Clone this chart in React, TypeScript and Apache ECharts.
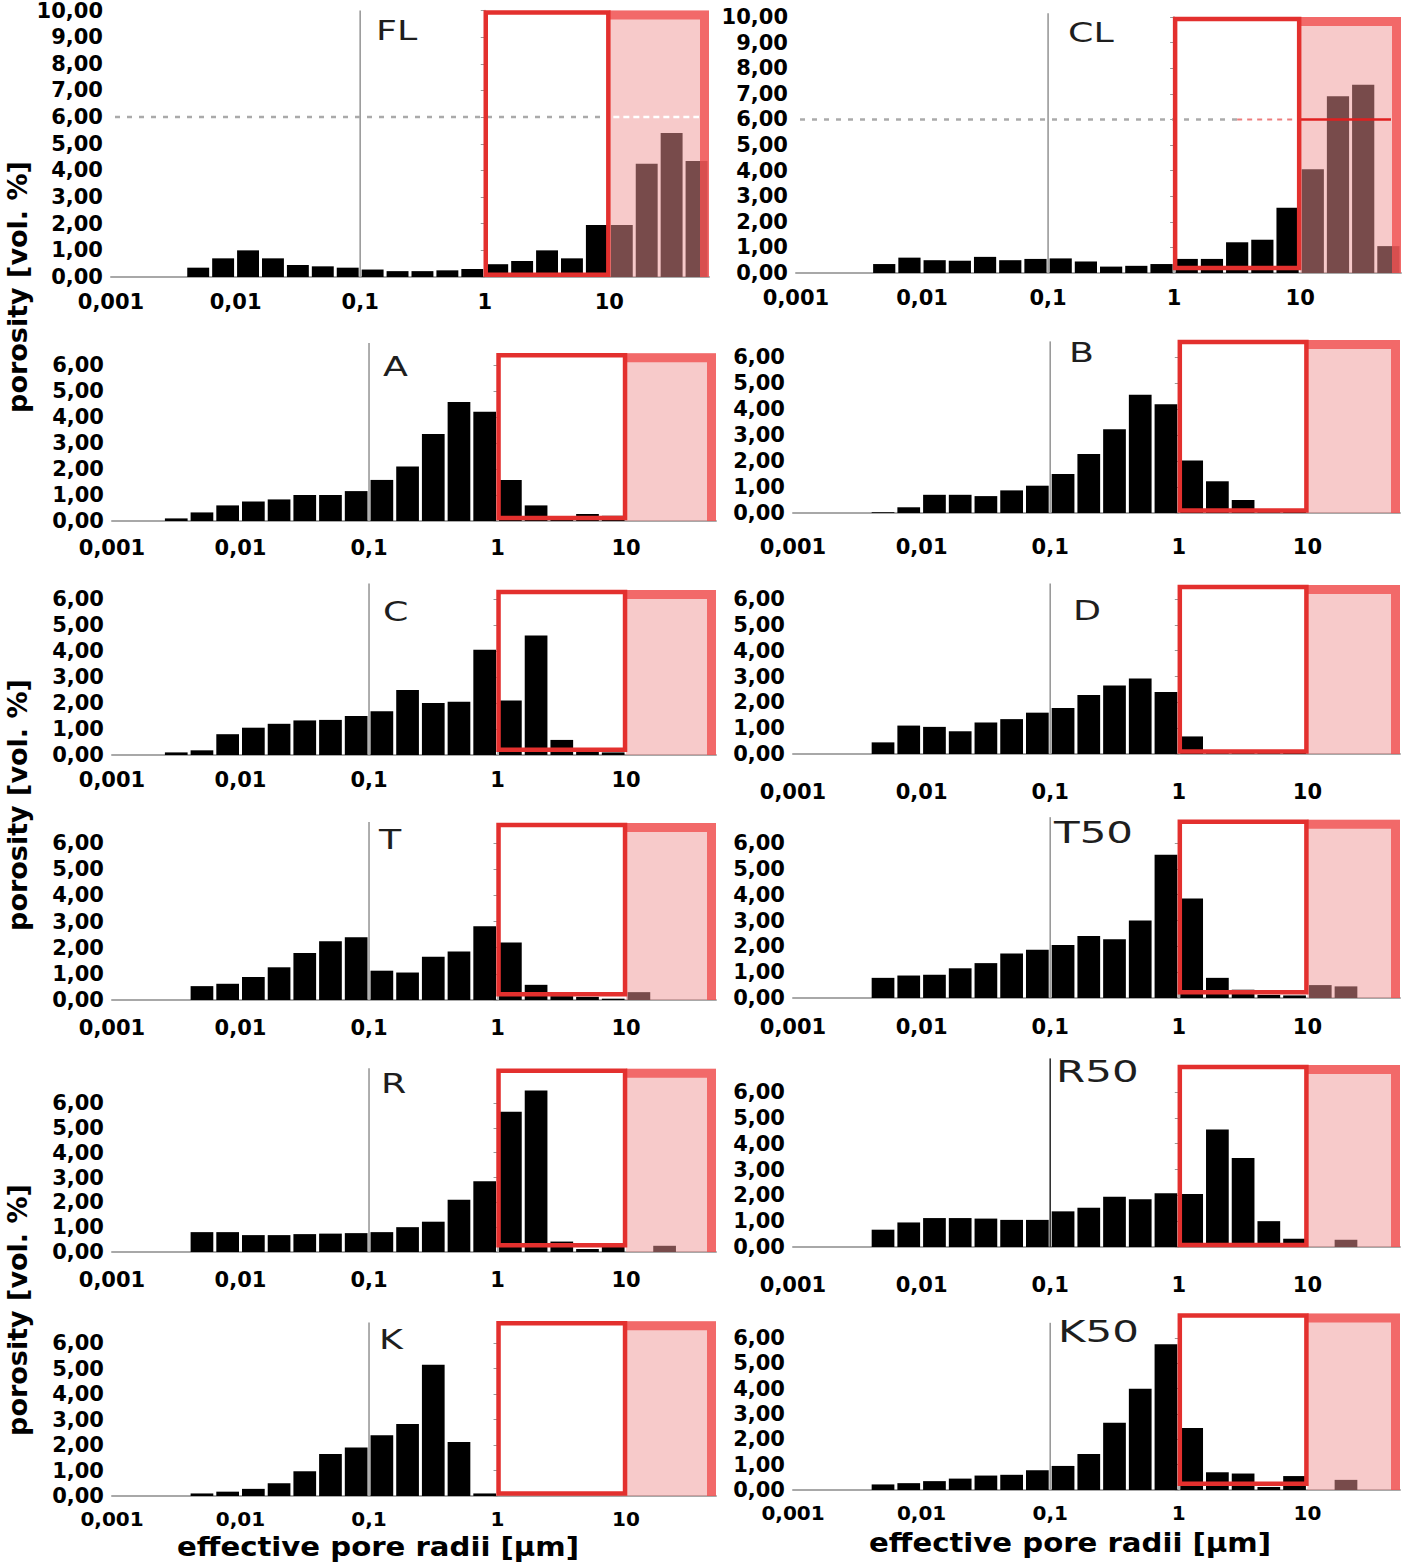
import React, { useEffect, useRef } from 'react';
import * as echarts from 'echarts';

// Histogram bins: first lower edge at 10^-2.6 µm, each bin spans 0.2 decade (22 bins)
const BIN_START_LOG = -2.6;
const BIN_STEP_LOG = 0.2;

const FL_VALUES = [0, 0.35, 0.7, 1.0, 0.7, 0.45, 0.4, 0.35, 0.28, 0.22, 0.22, 0.25, 0.3, 0.48, 0.6, 1.0, 0.7, 1.95, 1.95, 4.25, 5.4, 4.35];
const CL_VALUES = [0, 0.35, 0.6, 0.5, 0.48, 0.63, 0.5, 0.55, 0.57, 0.45, 0.25, 0.28, 0.35, 0.55, 0.55, 1.2, 1.3, 2.55, 4.05, 6.9, 7.35, 1.05];
const A_VALUES = [0.1, 0.33, 0.6, 0.75, 0.83, 1.0, 1.0, 1.15, 1.58, 2.1, 3.35, 4.58, 4.2, 1.58, 0.6, 0.18, 0.27, 0.2, 0, 0, 0, 0];
const B_VALUES = [0, 0.03, 0.22, 0.7, 0.7, 0.65, 0.87, 1.05, 1.5, 2.27, 3.22, 4.55, 4.18, 2.02, 1.22, 0.5, 0.03, 0.05, 0, 0, 0, 0];
const C_VALUES = [0.1, 0.18, 0.8, 1.05, 1.2, 1.33, 1.35, 1.5, 1.68, 2.5, 2.0, 2.05, 4.05, 2.1, 4.6, 0.58, 0.15, 0.1, 0, 0, 0, 0];
const D_VALUES = [0, 0.45, 1.1, 1.05, 0.88, 1.22, 1.35, 1.6, 1.78, 2.28, 2.65, 2.92, 2.4, 0.68, 0.03, 0.03, 0.03, 0.05, 0, 0, 0, 0];
const T_VALUES = [0, 0.53, 0.62, 0.88, 1.25, 1.8, 2.25, 2.4, 1.12, 1.05, 1.65, 1.85, 2.82, 2.2, 0.58, 0.15, 0.12, 0.05, 0.3, 0, 0, 0];
const T50_VALUES = [0, 0.78, 0.87, 0.9, 1.15, 1.35, 1.72, 1.87, 2.05, 2.4, 2.27, 3.0, 5.55, 3.85, 0.78, 0.32, 0.12, 0.1, 0.5, 0.45, 0, 0];
const R_VALUES = [0, 0.8, 0.8, 0.68, 0.68, 0.72, 0.74, 0.76, 0.8, 1.0, 1.22, 2.1, 2.85, 5.65, 6.5, 0.42, 0.12, 0.25, 0, 0.25, 0, 0];
const R50_VALUES = [0, 0.67, 0.95, 1.12, 1.12, 1.1, 1.05, 1.05, 1.38, 1.52, 1.95, 1.85, 2.08, 2.05, 4.55, 3.45, 1.0, 0.32, 0, 0.28, 0, 0];
const K_VALUES = [0, 0.1, 0.17, 0.28, 0.5, 0.97, 1.65, 1.9, 2.38, 2.82, 5.15, 2.12, 0.1, 0, 0, 0, 0, 0, 0, 0, 0, 0];
const K50_VALUES = [0, 0.22, 0.27, 0.35, 0.45, 0.57, 0.6, 0.78, 0.95, 1.42, 2.65, 4.0, 5.75, 2.45, 0.7, 0.65, 0.12, 0.55, 0, 0.4, 0, 0];

const X_TICK_LOGS = [-3, -2, -1, 0, 1];
const X_TICK_LABELS = ['0,001', '0,01', '0,1', '1', '10'];
const Y_TITLE = 'porosity [vol. %]';
const X_TITLE = 'effective pore radii [µm]';

// marked ranges (log10 µm)
const WHITE_BOX = [0, 1];
const PINK_START = 1;
const REF_LINE_VALUE = 6;
const MARKER_LOG = -1;

type Panel = {
  tag: string; values: number[]; left: number; top: number; width: number; height: number;
  ymax: number; xmax: number; labelMargin: number; boxTop: number; boxBottom: number; vTop: number;
  tagX: number; tagY: number; tagSize: number; refLine?: 'white' | 'red'; vColor?: string; xLabelSize?: number;
};

const PANELS: Panel[] = [
  { tag: 'FL', values: FL_VALUES, left: 111, top: 10, width: 598, height: 267, ymax: 10, xmax: 1.8, labelMargin: 14, boxTop: 10.0, boxBottom: 0.08, vTop: 10.0, tagX: 376, tagY: 31, tagSize: 26, refLine: 'white' },
  { tag: 'CL', values: CL_VALUES, left: 796, top: 17, width: 605, height: 256, ymax: 10, xmax: 1.8, labelMargin: 14, boxTop: 10.0, boxBottom: 0.2, vTop: 10.15, tagX: 1068, tagY: 33, tagSize: 26, refLine: 'red' },
  { tag: 'A', values: A_VALUES, left: 112, top: 365, width: 604, height: 156, ymax: 6, xmax: 1.7, labelMargin: 16, boxTop: 6.45, boxBottom: 0.12, vTop: 6.85, tagX: 383, tagY: 367, tagSize: 26 },
  { tag: 'B', values: B_VALUES, left: 793, top: 357, width: 607, height: 156, ymax: 6, xmax: 1.72, labelMargin: 23, boxTop: 6.65, boxBottom: 0.1, vTop: 6.6, tagX: 1069, tagY: 353, tagSize: 26 },
  { tag: 'C', values: C_VALUES, left: 112, top: 599, width: 604, height: 156, ymax: 6, xmax: 1.7, labelMargin: 14, boxTop: 6.35, boxBottom: 0.2, vTop: 6.6, tagX: 383, tagY: 612, tagSize: 26 },
  { tag: 'D', values: D_VALUES, left: 793, top: 599, width: 607, height: 155, ymax: 6, xmax: 1.72, labelMargin: 27, boxTop: 6.54, boxBottom: 0.1, vTop: 6.6, tagX: 1073, tagY: 611, tagSize: 26 },
  { tag: 'T', values: T_VALUES, left: 112, top: 843, width: 604, height: 157, ymax: 6, xmax: 1.7, labelMargin: 17, boxTop: 6.76, boxBottom: 0.22, vTop: 6.8, tagX: 379, tagY: 840, tagSize: 26 },
  { tag: 'T50', values: T50_VALUES, left: 793, top: 843, width: 607, height: 155, ymax: 6, xmax: 1.72, labelMargin: 18, boxTop: 6.9, boxBottom: 0.22, vTop: 7.0, tagX: 1054, tagY: 833, tagSize: 30 },
  { tag: 'R', values: R_VALUES, left: 112, top: 1103, width: 604, height: 149, ymax: 6, xmax: 1.7, labelMargin: 17, boxTop: 7.38, boxBottom: 0.27, vTop: 7.4, tagX: 381, tagY: 1084, tagSize: 26 },
  { tag: 'R50', values: R50_VALUES, left: 793, top: 1092, width: 607, height: 155, ymax: 6, xmax: 1.72, labelMargin: 27, boxTop: 7.05, boxBottom: 0.08, vTop: 7.3, tagX: 1056, tagY: 1072, tagSize: 30, vColor: '#333' },
  { tag: 'K', values: K_VALUES, left: 112, top: 1343, width: 604, height: 153, ymax: 6, xmax: 1.7, labelMargin: 13, boxTop: 6.85, boxBottom: 0.1, vTop: 6.8, tagX: 379, tagY: 1340, tagSize: 26, xLabelSize: 20 },
  { tag: 'K50', values: K50_VALUES, left: 793, top: 1338, width: 607, height: 152, ymax: 6, xmax: 1.72, labelMargin: 13, boxTop: 6.97, boxBottom: 0.25, vTop: 6.6, tagX: 1058, tagY: 1332, tagSize: 30, xLabelSize: 20 },
];

const LABEL_FONT = 'DejaVu Sans';

function xLabel(v: number): string {
  const idx = X_TICK_LOGS.findIndex((t) => Math.abs(t - v) < 1e-6);
  return idx >= 0 ? X_TICK_LABELS[idx] : '';
}

function yLabel(v: number): string {
  return v.toFixed(2).replace('.', ',');
}

function buildOption() {
  const grid: any[] = [];
  const xAxis: any[] = [];
  const yAxis: any[] = [];
  const series: any[] = [];
  const graphic: any[] = [];

  PANELS.forEach((p, i) => {
    grid.push({ left: p.left, top: p.top, width: p.width, height: p.height, containLabel: false });
    xAxis.push({
      type: 'value', gridIndex: i, min: -3, max: p.xmax, interval: 1,
      axisLine: { show: true, onZero: false, lineStyle: { color: '#a8a8a8', width: 2 } },
      axisTick: { show: false }, splitLine: { show: false },
      axisLabel: { margin: p.labelMargin, formatter: xLabel, fontFamily: LABEL_FONT, fontWeight: 'bold', fontSize: p.xLabelSize || 21, color: '#000', showMaxLabel: false },
    });
    yAxis.push({
      type: 'value', gridIndex: i, min: 0, max: p.ymax, interval: 1,
      axisLine: { show: true, lineStyle: { color: '#999', width: 1.5 } },
      axisTick: { show: true, length: 4, lineStyle: { color: '#999' } }, splitLine: { show: false },
      axisLabel: { margin: 8, formatter: yLabel, fontFamily: LABEL_FONT, fontWeight: 'bold', fontSize: 21, color: '#000' },
    });

    // background decorations: marker line at 0.1 µm, dotted reference line
    series.push({
      type: 'custom', xAxisIndex: i, yAxisIndex: i, z: 2, silent: true,
      data: [[0, 0]], encode: { x: 0, y: 1 },
      renderItem: (_params: any, api: any) => {
        const base = api.coord([MARKER_LOG, 0]);
        const vt = api.coord([MARKER_LOG, p.vTop]);
        const children: any[] = [
          { type: 'line', shape: { x1: base[0], y1: base[1], x2: vt[0], y2: vt[1] }, style: { stroke: p.vColor || '#9a9a9a', lineWidth: 1.6 } },
        ];
        if (p.refLine) {
          const a = api.coord([-3, REF_LINE_VALUE]);
          const b = api.coord([p.refLine === 'red' ? 0.5 : WHITE_BOX[1], REF_LINE_VALUE]);
          children.push({ type: 'line', shape: { x1: a[0] + 4, y1: a[1], x2: b[0], y2: b[1] }, style: { stroke: '#aaa', lineWidth: 2.5, lineDash: [5, 7] } });
        }
        return { type: 'group', children };
      },
    });

    // bars
    const barData = p.values
      .map((v, k) => [BIN_START_LOG + k * BIN_STEP_LOG, BIN_START_LOG + (k + 1) * BIN_STEP_LOG, v])
      .filter((d) => d[2] > 0);
    series.push({
      type: 'custom', xAxisIndex: i, yAxisIndex: i, z: 3,
      data: barData, encode: { x: [0, 1], y: 2 },
      renderItem: (_params: any, api: any) => {
        const lo = api.value(0), hi = api.value(1), v = api.value(2);
        const p0 = api.coord([lo, 0]);
        const p1 = api.coord([hi, v]);
        return {
          type: 'rect',
          shape: { x: p0[0] + 1.5, y: p1[1], width: p1[0] - p0[0] - 3, height: p0[1] - p1[1] },
          style: { fill: '#000' },
        };
      },
    });

    // foreground decorations: pink range and red outlined range
    series.push({
      type: 'custom', xAxisIndex: i, yAxisIndex: i, z: 5, silent: true,
      data: [[0, 0]], encode: { x: 0, y: 1 },
      renderItem: (_params: any, api: any) => {
        const bx0 = api.coord([WHITE_BOX[0], 0])[0];
        const bx1 = api.coord([WHITE_BOX[1], 0])[0];
        const px0 = api.coord([PINK_START, 0])[0];
        const xr = api.coord([p.xmax, 0])[0];
        const base = api.coord([0, 0])[1];
        const top = api.coord([0, p.boxTop])[1];
        const bot = api.coord([0, p.boxBottom])[1];
        const children: any[] = [
          { type: 'rect', shape: { x: px0, y: top, width: xr - px0, height: base - top }, style: { fill: 'rgba(240,150,150,0.5)' } },
          { type: 'polyline', shape: { points: [[px0, top + 4.5], [xr - 4.5, top + 4.5], [xr - 4.5, base]] }, style: { stroke: 'rgba(240,80,80,0.8)', lineWidth: 9, fill: 'none' } },
        ];
        if (p.refLine) {
          const y6 = api.coord([0, REF_LINE_VALUE])[1];
          if (p.refLine === 'white') {
            children.push({ type: 'line', shape: { x1: px0 + 4, y1: y6, x2: xr - 10, y2: y6 }, style: { stroke: '#fff', lineWidth: 2.5, lineDash: [6, 4] } });
          } else {
            const a = api.coord([0.5, REF_LINE_VALUE])[0];
            children.push({ type: 'line', shape: { x1: a, y1: y6, x2: bx1, y2: y6 }, style: { stroke: 'rgba(225,40,40,0.6)', lineWidth: 2, lineDash: [5, 5] } });
            children.push({ type: 'line', shape: { x1: bx1, y1: y6, x2: xr - 10, y2: y6 }, style: { stroke: '#e02020', lineWidth: 2.5 } });
          }
        }
        children.push({ type: 'rect', shape: { x: bx0 + 1, y: top + 2, width: bx1 - bx0 - 2, height: bot - top - 2 }, style: { fill: 'none', stroke: '#e3302e', lineWidth: 4.5 } });
        return { type: 'group', children };
      },
    });

    graphic.push({
      type: 'text', x: p.tagX, y: p.tagY, scaleX: 1.4, z: 10,
      style: { text: p.tag, font: `${p.tagSize}px "${LABEL_FONT}"`, fill: '#1e1e1e', align: 'left', verticalAlign: 'middle' },
    });
  });

  [287, 805, 1310].forEach((cy) => {
    graphic.push({
      type: 'text', x: 17, y: cy, rotation: Math.PI / 2, z: 10,
      style: { text: Y_TITLE, font: `bold 27px "${LABEL_FONT}"`, fill: '#000', align: 'center', verticalAlign: 'middle' },
    });
  });
  [[378, 1547], [1070, 1543]].forEach(([cx, cy]) => {
    graphic.push({
      type: 'text', x: cx, y: cy, z: 10, scaleX: 1.08,
      style: { text: X_TITLE, font: `bold 27px "${LABEL_FONT}"`, fill: '#000', align: 'center', verticalAlign: 'middle' },
    });
  });

  return { animation: false, backgroundColor: '#fff', grid, xAxis, yAxis, series, graphic };
}

export default function App() {
  const ref = useRef<HTMLDivElement>(null);
  useEffect(() => {
    if (!ref.current) return;
    const chart = echarts.init(ref.current, null, { renderer: 'svg' });
    chart.setOption(buildOption() as any);
    return () => chart.dispose();
  }, []);
  return <div ref={ref} style={{ position: 'absolute', left: 0, top: 0, width: 1418, height: 1564, background: '#fff' }} />;
}
